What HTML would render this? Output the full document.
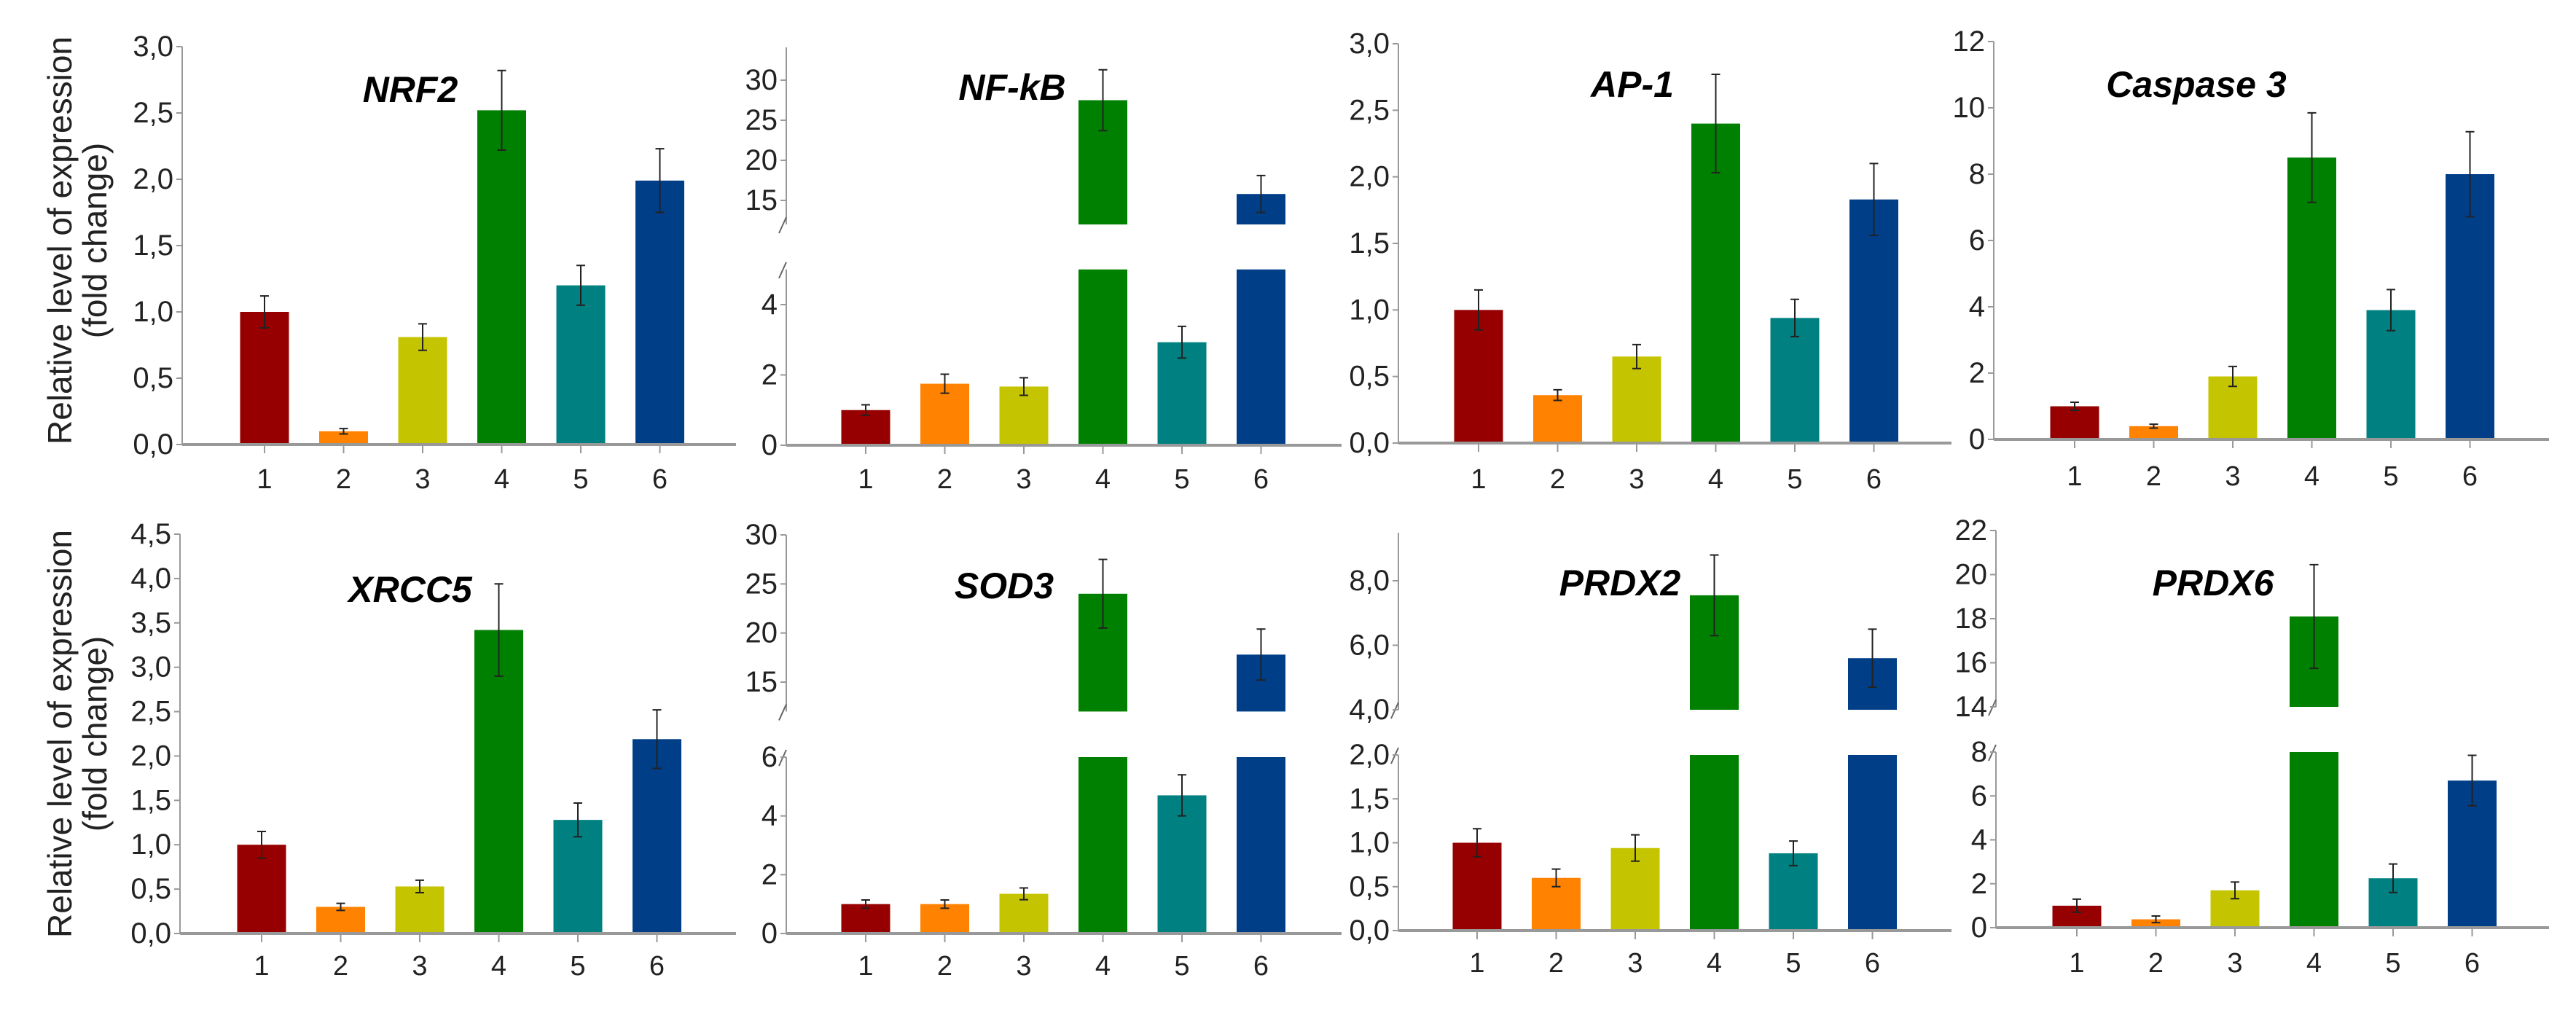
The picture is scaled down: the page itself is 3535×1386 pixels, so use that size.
<!DOCTYPE html>
<html><head><meta charset="utf-8"><style>
html,body{margin:0;padding:0;background:#fff;}
svg{display:block;}
text{font-family:"Liberation Sans",Arial,sans-serif;}
</style></head><body>
<svg id="chart" width="3535" height="1386" viewBox="0 0 3535 1386" xmlns="http://www.w3.org/2000/svg">
<text transform="translate(86,330) rotate(-90)" text-anchor="middle" dominant-baseline="middle" font-size="46" fill="#222">Relative level of expression</text>
<text transform="translate(134,330) rotate(-90)" text-anchor="middle" dominant-baseline="middle" font-size="46" fill="#222">(fold change)</text>
<text transform="translate(86,1007) rotate(-90)" text-anchor="middle" dominant-baseline="middle" font-size="46" fill="#222">Relative level of expression</text>
<text transform="translate(134,1007) rotate(-90)" text-anchor="middle" dominant-baseline="middle" font-size="46" fill="#222">(fold change)</text>
</svg>
<script>
const categories = ["1","2","3","4","5","6"];
const colors = ["#960000","#ff8200","#c4c400","#008000","#008080","#003f88"];

const nrf2Values = [1.0,0.1,0.81,2.52,1.2,1.99];
const nrf2Errors = [0.12,0.02,0.1,0.3,0.15,0.24];
const nrf2Ticks = ["0,0","0,5","1,0","1,5","2,0","2,5","3,0"];

const nfkbValues = [1.0,1.75,1.67,27.5,2.93,15.8];
const nfkbErrors = [0.15,0.27,0.25,3.8,0.45,2.3];
const nfkbLowTicks = ["0","2","4"];
const nfkbHighTicks = ["15","20","25","30"];

const ap1Values = [1.0,0.36,0.65,2.4,0.94,1.83];
const ap1Errors = [0.15,0.04,0.09,0.37,0.14,0.27];
const ap1Ticks = ["0,0","0,5","1,0","1,5","2,0","2,5","3,0"];

const casp3Values = [1.0,0.4,1.9,8.5,3.9,8.0];
const casp3Errors = [0.12,0.06,0.3,1.35,0.62,1.28];
const casp3Ticks = ["0","2","4","6","8","10","12"];

const xrcc5Values = [1.0,0.3,0.53,3.42,1.28,2.19];
const xrcc5Errors = [0.15,0.04,0.07,0.52,0.19,0.33];
const xrcc5Ticks = ["0,0","0,5","1,0","1,5","2,0","2,5","3,0","3,5","4,0","4,5"];

const sod3Values = [1.0,1.0,1.35,24.0,4.7,17.8];
const sod3Errors = [0.14,0.14,0.2,3.5,0.7,2.6];
const sod3LowTicks = ["0","2","4","6"];
const sod3HighTicks = ["15","20","25","30"];

const prdx2Values = [1.0,0.6,0.94,7.55,0.88,5.6];
const prdx2Errors = [0.16,0.1,0.15,1.25,0.14,0.9];
const prdx2LowTicks = ["0,0","0,5","1,0","1,5","2,0"];
const prdx2HighTicks = ["4,0","6,0","8,0"];

const prdx6Values = [1.0,0.38,1.7,18.1,2.25,6.7];
const prdx6Errors = [0.3,0.15,0.38,2.35,0.65,1.15];
const prdx6LowTicks = ["0","2","4","6","8"];
const prdx6HighTicks = ["14","16","18","20","22"];

const NS="http://www.w3.org/2000/svg";
const svg=document.getElementById('chart');
function num(s){return parseFloat(s.replace(',','.'));}
function mk(tag,attrs,parent){const e=document.createElementNS(NS,tag);for(const k in attrs)e.setAttribute(k,attrs[k]);(parent||svg).appendChild(e);return e;}

const panels=[
 {id:"nrf2",title:"NRF2",vals:nrf2Values,errs:nrf2Errors,ax:250,axEnd:1010,x0:363,y0:610,lowTicks:nrf2Ticks,lowTopY:64,tx:563,ty:123,catY:658},
 {id:"nf-kb",title:"NF-kB",vals:nfkbValues,errs:nfkbErrors,ax:1079,axEnd:1841,x0:1188,y0:611,lowTicks:nfkbLowTicks,lowTopY:418,lowMax:5,
  highTicks:nfkbHighTicks,hiY1:275,hiY2:110,hiMin:12,hiTopY:65,tx:1389,ty:120,catY:658},
 {id:"ap-1",title:"AP-1",vals:ap1Values,errs:ap1Errors,ax:1919,axEnd:2678,x0:2029,y0:608,lowTicks:ap1Ticks,lowTopY:60,tx:2240,ty:116,catY:658},
 {id:"caspase-3",title:"Caspase 3",vals:casp3Values,errs:casp3Errors,ax:2736,axEnd:3498,x0:2847,y0:603,lowTicks:casp3Ticks,lowTopY:57,tx:3014,ty:116,catY:654},
 {id:"xrcc5",title:"XRCC5",vals:xrcc5Values,errs:xrcc5Errors,ax:247,axEnd:1010,x0:359,y0:1281,lowTicks:xrcc5Ticks,lowTopY:733,tx:563,ty:809,catY:1326},
 {id:"sod3",title:"SOD3",vals:sod3Values,errs:sod3Errors,ax:1079,axEnd:1841,x0:1188,y0:1281,lowTicks:sod3LowTicks,lowTopY:1039,lowMax:6,
  highTicks:sod3HighTicks,hiY1:936,hiY2:734,hiMin:12,hiTopY:734,tx:1378,ty:804,catY:1326},
 {id:"prdx2",title:"PRDX2",vals:prdx2Values,errs:prdx2Errors,ax:1919,axEnd:2678,x0:2027,y0:1277,lowTicks:prdx2LowTicks,lowTopY:1036,lowMax:2,
  highTicks:prdx2HighTicks,hiY1:974,hiY2:797,hiMin:4,hiTopY:731,tx:2223,ty:800,catY:1322},
 {id:"prdx6",title:"PRDX6",vals:prdx6Values,errs:prdx6Errors,ax:2739,axEnd:3498,x0:2850,y0:1273,lowTicks:prdx6LowTicks,lowTopY:1032,lowMax:8,
  highTicks:prdx6HighTicks,hiY1:970,hiY2:728,hiMin:14,hiTopY:728,tx:3037,ty:800,catY:1322}
];
const SP=108.5, BW=67;

panels.forEach(p=>{
  const g=mk('g',{});
  
  
  const lt=p.lowTicks, lv0=num(lt[0]), lvN=num(lt[lt.length-1]);
  const lowScale=v=>p.y0-(v-lv0)*(p.y0-p.lowTopY)/(lvN-lv0);
  let hiScale=null;
  if(p.highTicks){
    const h=p.highTicks, a=num(h[0]), b=num(h[h.length-1]);
    hiScale=v=>p.hiY1-(v-a)*(p.hiY1-p.hiY2)/(b-a);
  }
  const lowAxisTop = p.highTicks ? lowScale(p.lowMax) : p.lowTopY;
  let l=mk('line',{x1:p.ax,x2:p.ax,y1:p.y0,y2:lowAxisTop,stroke:'#999','stroke-width':2},g);
  
  
  if(hiScale){
    const yb=hiScale(p.hiMin);
    l=mk('line',{x1:p.ax,x2:p.ax,y1:yb,y2:p.hiTopY,stroke:'#999','stroke-width':2},g);
    
    
    [yb,lowAxisTop].forEach(yy=>{
      const s=mk('line',{x1:p.ax-10,y1:yy+12,x2:p.ax,y2:yy-10,stroke:'#666','stroke-width':2},g);
      
      
    });
  }
  const drawTicks=(arr,sc)=>arr.forEach(t=>{
    const y=sc(num(t));
    mk('line',{x1:p.ax-8,x2:p.ax,y1:y,y2:y,stroke:'#999','stroke-width':2},g);
    const tx=mk('text',{x:p.ax-12,y:y,'text-anchor':'end','dominant-baseline':'central','font-size':40,fill:'#222'},g);
    tx.textContent=t;
    
    
  });
  drawTicks(lt,lowScale);
  if(hiScale) drawTicks(p.highTicks,hiScale);
  p.vals.forEach((v,i)=>{
    const cx=p.x0+i*SP, e=p.errs[i];
    const broken = hiScale && v>p.lowMax;
    if(broken){
      const yt=lowScale(p.lowMax);
      let r=mk('rect',{x:cx-BW/2,y:yt,width:BW,height:p.y0-yt,fill:colors[i]},g);
      
      
      const yb=hiScale(p.hiMin), yv=hiScale(v);
      r=mk('rect',{x:cx-BW/2,y:yv,width:BW,height:yb-yv,fill:colors[i]},g);
      
      
      const eb=mk('path',{d:`M${cx},${hiScale(v-e)}V${hiScale(v+e)}M${cx-6},${hiScale(v+e)}H${cx+6}M${cx-6},${hiScale(v-e)}H${cx+6}`,stroke:'#222','stroke-width':2,fill:'none'},g);
      
      
    } else {
      const sc=lowScale, yv=sc(v);
      const r=mk('rect',{x:cx-BW/2,y:yv,width:BW,height:p.y0-yv,fill:colors[i]},g);
      
      
      const eb=mk('path',{d:`M${cx},${sc(v-e)}V${sc(v+e)}M${cx-6},${sc(v+e)}H${cx+6}M${cx-6},${sc(v-e)}H${cx+6}`,stroke:'#222','stroke-width':2,fill:'none'},g);
      
      
    }
    mk('line',{x1:cx,x2:cx,y1:p.y0,y2:p.y0+12,stroke:'#999','stroke-width':2},g);
    const ct=mk('text',{x:cx,y:p.catY,'text-anchor':'middle','dominant-baseline':'central','font-size':38,fill:'#222'},g);
    ct.textContent=categories[i];
    
    
  });
  const xa=mk('line',{x1:p.ax,x2:p.axEnd,y1:p.y0,y2:p.y0,stroke:'#999','stroke-width':4},g);
  
  
  const tt=mk('text',{x:p.tx,y:p.ty,'text-anchor':'middle','dominant-baseline':'central','font-size':50,'font-weight':'bold','font-style':'italic',fill:'#000'},g);
  tt.textContent=p.title;
  
  
});
</script>
</body></html>
